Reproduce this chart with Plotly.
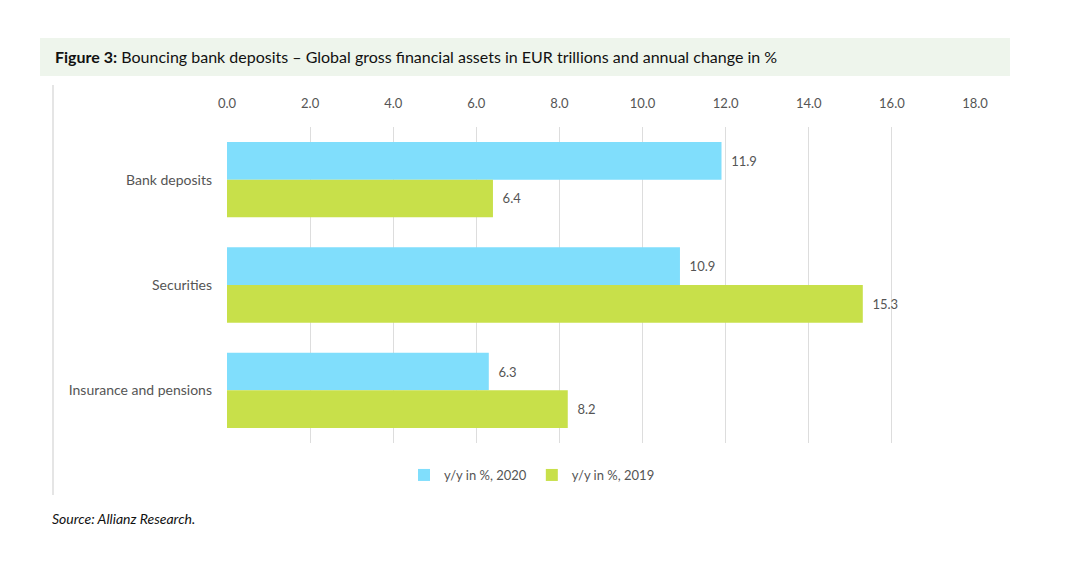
import plotly.graph_objects as go

categories = ["Bank deposits", "Securities", "Insurance and pensions"]
values_2020 = [11.9, 10.9, 6.3]
values_2019 = [6.4, 15.3, 8.2]
series_names = ["y/y in %, 2020", "y/y in %, 2019"]
x_ticks = [0, 2, 4, 6, 8, 10, 12, 14, 16, 18]

BLUE = "#80DEFC"
GREEN = "#C8E04A"
FONT = "Lato, 'Open Sans', sans-serif"

OFF = 8  # page body margin
W, H = 1080, 565
L, T = 227 - OFF, 127 - OFF
PW, PH = 748, 316
R, B = W - L - PW, H - T - PH


def px(x):
    return (x - OFF - L) / PW


def py(y):
    return (T + PH - (y - OFF)) / PH


fig = go.Figure()
fig.add_trace(go.Bar(
    y=categories, x=values_2020, name=series_names[0], orientation="h",
    marker=dict(color=BLUE, line=dict(width=0)),
    text=[f"  {v:.1f}" for v in values_2020], textposition="outside",
    textfont=dict(color="#555555", size=13, family=FONT), cliponaxis=False,
))
fig.add_trace(go.Bar(
    y=categories, x=values_2019, name=series_names[1], orientation="h",
    marker=dict(color=GREEN, line=dict(width=0)),
    text=[f"  {v:.1f}" for v in values_2019], textposition="outside",
    textfont=dict(color="#555555", size=13, family=FONT), cliponaxis=False,
))

fig.update_layout(
    width=W, height=H,
    margin=dict(l=L, r=R, t=T, b=B),
    paper_bgcolor="white", plot_bgcolor="white",
    barmode="group", bargap=0.285, bargroupgap=0,
    font=dict(family=FONT, color="#555555", size=12),
    showlegend=True,
    legend=dict(orientation="h", x=px(404), xanchor="left", y=py(475), yanchor="middle",
                font=dict(size=13, color="#555555", family=FONT), traceorder="normal",
                itemwidth=30, bgcolor="rgba(0,0,0,0)"),
    xaxis=dict(side="top", range=[0, 18], tickvals=x_ticks,
               ticktext=[f"{v:.1f}" for v in x_ticks],
               showgrid=True, gridcolor="#dddddd", gridwidth=1,
               zeroline=False, showline=False, ticks="",
               ticklabelstandoff=15,
               tickfont=dict(size=13, color="#555555", family=FONT)),
    yaxis=dict(autorange="reversed", showgrid=False, zeroline=False, showline=False,
               ticks="", ticklabelstandoff=14,
               tickfont=dict(size=14, color="#555555", family=FONT)),
)

# title band
fig.add_shape(type="rect", xref="paper", yref="paper",
              x0=px(40), x1=px(1010), y0=py(76), y1=py(38),
              fillcolor="#EEF5EC", line=dict(width=0), layer="below")
# left border line
fig.add_shape(type="line", xref="paper", yref="paper",
              x0=px(53), x1=px(53), y0=py(85), y1=py(495),
              line=dict(color="#dddddd", width=1.5))

fig.add_annotation(xref="paper", yref="paper", x=px(53), y=py(57),
                   xanchor="left", yanchor="middle", showarrow=False,
                   text="<b>Figure 3:</b> Bouncing bank deposits – Global gross financial assets in EUR trillions and annual change in %",
                   font=dict(size=16, color="#111111", family=FONT))
fig.add_annotation(xref="paper", yref="paper", x=px(50), y=py(518),
                   xanchor="left", yanchor="middle", showarrow=False,
                   text="<i>Source: Allianz Research.</i>",
                   font=dict(size=14, color="#111111", family=FONT))

fig.write_html("out.html")
